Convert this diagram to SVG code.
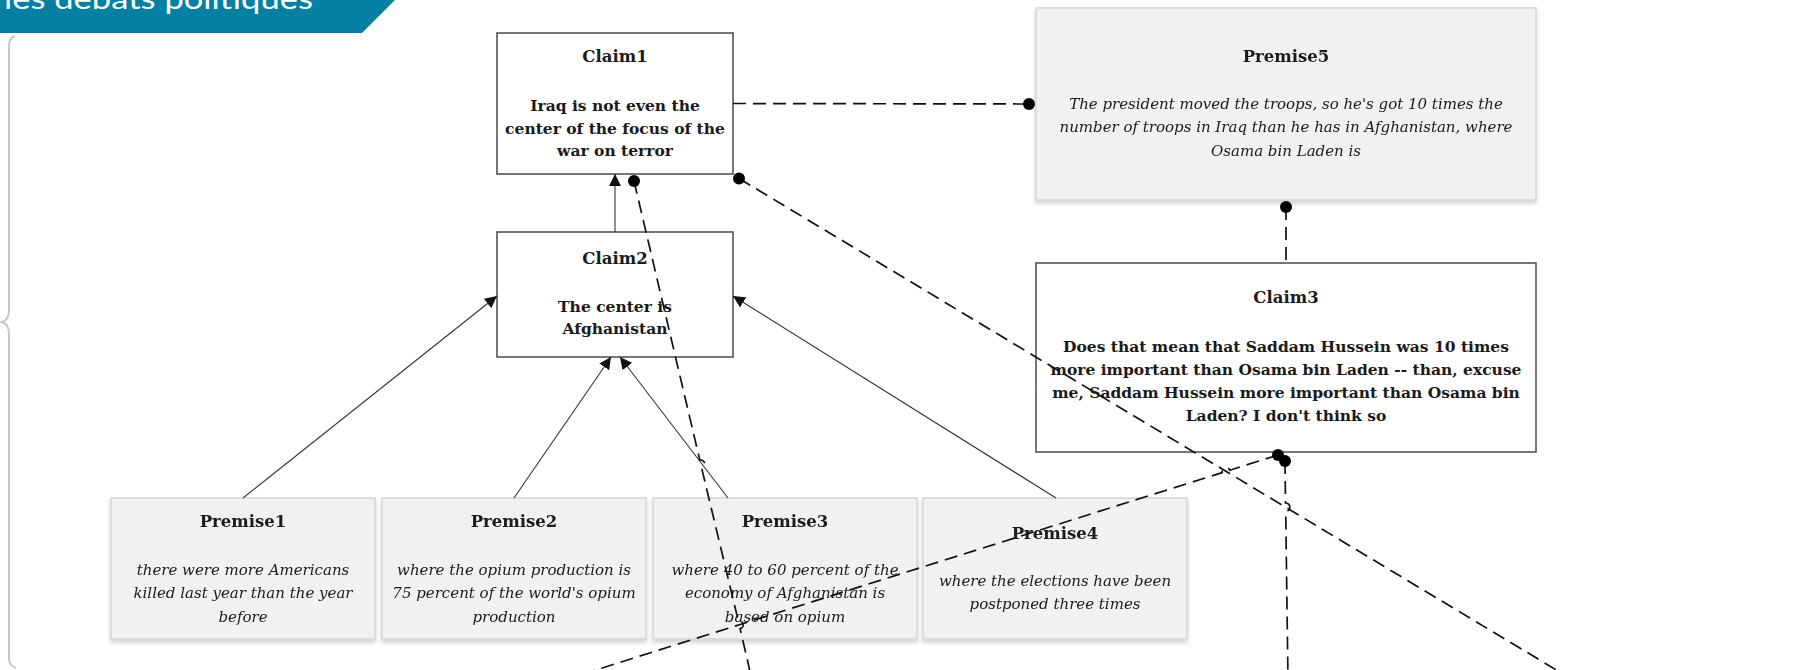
<svg xmlns="http://www.w3.org/2000/svg" width="1818" height="670" viewBox="0 0 1818 670">
  <style>
    .claim { fill: #ffffff; stroke: #4a4a4a; stroke-width: 1.5; }
    .premise { fill: #f1f1f1; stroke: #d5d5d5; stroke-width: 1.5; }
    .title { font-family: "DejaVu Serif", "Liberation Serif", serif; font-weight: bold; font-size: 16.5px; fill: #1a1a1a; text-anchor: middle; }
    .bold { font-family: "DejaVu Serif", "Liberation Serif", serif; font-weight: bold; font-size: 15.5px; fill: #1a1a1a; text-anchor: middle; }
    .ital { font-family: "DejaVu Serif", "Liberation Serif", serif; font-style: italic; font-size: 15px; fill: #1a1a1a; text-anchor: middle; }
    .support { fill: none; stroke: #333333; stroke-width: 1.1; }
    .attack { fill: none; stroke: #111111; stroke-width: 1.7; stroke-dasharray: 13 7; }
    .dot { fill: #000000; }
  </style>
  <defs>
    <marker id="arrow" viewBox="0 0 10 10" refX="10" refY="5" markerWidth="12" markerHeight="12" markerUnits="userSpaceOnUse" orient="auto">
      <path d="M0,0 L10,5 L0,10 Z" fill="#111111"/>
    </marker>
    <filter id="shadow" x="-5%" y="-5%" width="110%" height="120%">
      <feGaussianBlur in="SourceAlpha" stdDeviation="2"/>
      <feOffset dx="0" dy="3" result="b"/>
      <feComponentTransfer><feFuncA type="linear" slope="0.18"/></feComponentTransfer>
      <feMerge><feMergeNode/><feMergeNode in="SourceGraphic"/></feMerge>
    </filter>
  </defs>

  <!-- title banner -->
  <g id="banner">
    <polygon points="0,0 395,0 362,33 0,33" fill="#0580a3"/>
    <text x="4" y="9" font-family="Lato, 'Open Sans', sans-serif" font-size="28" fill="#ffffff" textLength="309" lengthAdjust="spacingAndGlyphs">les débats politiques</text>
  </g>

  <!-- side brace -->
  <path id="brace" d="M15,36 Q9,38 9,46 L9,310 Q9,320 2,322 Q9,324 9,334 L9,658 Q9,666 16,668" fill="none" stroke="#c6c6c6" stroke-width="2"/>

  <!-- nodes -->
  <g id="claim1">
    <rect class="claim" x="497" y="33" width="236" height="141"/>
    <text class="title" x="615" y="62">Claim1</text>
    <text class="bold" x="615" y="111">Iraq is not even the</text>
    <text class="bold" x="615" y="133.5">center of the focus of the</text>
    <text class="bold" x="615" y="156">war on terror</text>
  </g>

  <g id="claim2">
    <rect class="claim" x="497" y="232" width="236" height="125"/>
    <text class="title" x="615" y="264">Claim2</text>
    <text class="bold" x="615" y="311.5">The center is</text>
    <text class="bold" x="615" y="334">Afghanistan</text>
  </g>

  <g id="premise5" filter="url(#shadow)">
    <rect class="premise" x="1036" y="8" width="500" height="192"/>
    <text class="title" x="1286" y="62">Premise5</text>
    <text class="ital" x="1286" y="109">The president moved the troops, so he's got 10 times the</text>
    <text class="ital" x="1286" y="132">number of troops in Iraq than he has in Afghanistan, where</text>
    <text class="ital" x="1286" y="156">Osama bin Laden is</text>
  </g>

  <g id="claim3">
    <rect class="claim" x="1036" y="263" width="500" height="189"/>
    <text class="title" x="1286" y="303">Claim3</text>
    <text class="bold" x="1286" y="352">Does that mean that Saddam Hussein was 10 times</text>
    <text class="bold" x="1286" y="374.5">more important than Osama bin Laden -- than, excuse</text>
    <text class="bold" x="1286" y="397.5">me, Saddam Hussein more important than Osama bin</text>
    <text class="bold" x="1286" y="420.5">Laden? I don't think so</text>
  </g>

  <g id="premise1" filter="url(#shadow)">
    <rect class="premise" x="111" y="498" width="264" height="141"/>
    <text class="title" x="243" y="527">Premise1</text>
    <text class="ital" x="243" y="575">there were more Americans</text>
    <text class="ital" x="243" y="598">killed last year than the year</text>
    <text class="ital" x="243" y="621.5">before</text>
  </g>

  <g id="premise2" filter="url(#shadow)">
    <rect class="premise" x="382" y="498" width="264" height="141"/>
    <text class="title" x="514" y="527">Premise2</text>
    <text class="ital" x="514" y="575">where the opium production is</text>
    <text class="ital" x="514" y="598">75 percent of the world's opium</text>
    <text class="ital" x="514" y="621.5">production</text>
  </g>

  <g id="premise3" filter="url(#shadow)">
    <rect class="premise" x="653" y="498" width="264" height="141"/>
    <text class="title" x="785" y="527">Premise3</text>
    <text class="ital" x="785" y="575">where 40 to 60 percent of the</text>
    <text class="ital" x="785" y="598">economy of Afghanistan is</text>
    <text class="ital" x="785" y="621.5">based on opium</text>
  </g>

  <g id="premise4" filter="url(#shadow)">
    <rect class="premise" x="923" y="498" width="264" height="141"/>
    <text class="title" x="1055" y="539">Premise4</text>
    <text class="ital" x="1055" y="586">where the elections have been</text>
    <text class="ital" x="1055" y="609">postponed three times</text>
  </g>

  <!-- connectors -->
  <g id="connectors">
    <!-- support links -->
    <line class="support" x1="615" y1="232" x2="615" y2="174" marker-end="url(#arrow)"/>
    <line class="support" x1="243" y1="498" x2="497" y2="296" marker-end="url(#arrow)"/>
    <line class="support" x1="514" y1="498" x2="611" y2="357" marker-end="url(#arrow)"/>
    <line class="support" x1="728" y1="498" x2="620" y2="357" marker-end="url(#arrow)"/>
    <line class="support" x1="1056" y1="498" x2="733" y2="296" marker-end="url(#arrow)"/>

    <!-- conflict links -->
    <path class="attack" d="M733,103.5 L1029,104"/>
    <circle class="dot" cx="1029" cy="104" r="6"/>

    <path class="attack" d="M1286,207 L1286,263"/>
    <circle class="dot" cx="1286" cy="207" r="6"/>

    <path class="attack" d="M739,178.5 L1573,680"/>
    <circle class="dot" cx="739" cy="178.5" r="6"/>

    <path class="attack" d="M634,181 L699.8,460.1 A4,4 0 0 1 701.6,467.9 L738.3,620.9 A4,4 0 0 1 740.1,628.7 L752,680"/>
    <circle class="dot" cx="634" cy="181" r="6"/>

    <path class="attack" d="M1278,455 L1229.8,470.2 A4,4 0 0 0 1222.2,472.6 L564,680"/>
    <circle class="dot" cx="1278" cy="455" r="6"/>

    <path class="attack" d="M1285,461 L1285.5,503 A4.2,4.2 0 0 1 1285.7,511.4 L1288,680"/>
    <circle class="dot" cx="1285" cy="461" r="6"/>
  </g>
</svg>
